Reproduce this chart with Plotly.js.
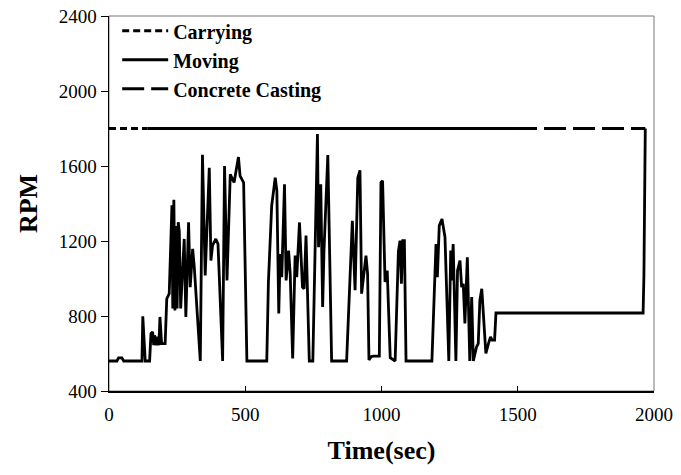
<!DOCTYPE html>
<html>
<head>
<meta charset="utf-8">
<script src="https://cdn.plot.ly/plotly-3.0.1.min.js"></script>
<style>
  html, body { margin: 0; padding: 0; background: #fff; }
  #chart { width: 681px; height: 475px; }
</style>
</head>
<body>
<div id="chart"></div>
<script>
// Engine speed record (seconds vs RPM)
const timeSec = [
  0, 29, 35, 47, 54, 121, 124, 133, 149, 154, 160, 164, 167, 173, 178, 183, 187, 193, 206, 212,
  221, 228, 231, 234, 238, 242, 246, 250, 254, 258, 263, 276, 282, 292, 298, 307, 313, 335, 343, 353,
  368, 374, 380, 392, 400, 417, 424, 433, 445, 459, 475, 481, 494, 506, 579, 585, 597, 610, 616, 623,
  628, 634, 644, 650, 659, 665, 674, 683, 689, 699, 710, 716, 723, 735, 748, 765, 769, 777, 784, 789,
  803, 817, 872, 893, 903, 913, 921, 927, 943, 949, 954, 962, 970, 992, 998, 1004, 1013, 1021, 1032, 1050,
  1062, 1068, 1073, 1078, 1084, 1090, 1185, 1200, 1205, 1212, 1222, 1233, 1247, 1254, 1257, 1263, 1273, 1279, 1288, 1294,
  1300, 1306, 1315, 1324, 1331, 1337, 1349, 1355, 1361, 1368, 1383, 1392, 1400, 1406, 1415, 1420, 1960, 1963, 1968
];
const rpmValues = [
  560, 560, 577, 577, 560, 560, 798, 560, 560, 706, 715, 644, 697, 644, 689, 644, 795, 653, 653, 892,
  919, 1184, 1390, 840, 1420, 830, 1280, 840, 1300, 1250, 840, 1211, 795, 1300, 954, 1158, 1060, 560, 1660, 1016,
  1591, 1096, 1176, 1211, 1184, 560, 1600, 990, 1556, 1512, 1648, 1547, 1512, 560, 560, 981, 1388, 1538, 1467, 813,
  1131, 1007, 1503, 990, 1149, 1025, 574, 1122, 1007, 1299, 954, 945, 1229, 560, 560, 1770, 1167, 1503, 848, 1150,
  1659, 560, 560, 1308, 937, 1538, 1577, 919, 1122, 1025, 565, 583, 586, 586, 1512, 1521, 981, 1043, 578, 560,
  1145, 1202, 972, 1202, 1202, 560, 560, 1184, 1007, 1282, 1317, 1220, 560, 1149, 990, 1184, 560, 1043, 1096, 954,
  972, 760, 1113, 560, 901, 560, 636, 653, 883, 945, 600, 650, 689, 671, 671, 816, 816, 1016, 1800
];

// Operating phases drawn as the 1800 RPM reference level
const phaseNames = ['Carrying', 'Moving', 'Concrete Casting'];
const phaseStart = [0, 142, 1490];
const phaseEnd = [142, 1490, 1968];
const phaseLevel = [1800, 1800, 1800];
const phaseDash = ['7px,4px', 'solid', '22px,7px'];

const yTicks = [400, 800, 1200, 1600, 2000, 2400];
const xTicks = [0, 500, 1000, 1500, 2000];

const serif = '"Liberation Serif", "Times New Roman", serif';

const traces = phaseNames.map((name, i) => ({
  type: 'scatter',
  mode: 'lines',
  name: name,
  x: [phaseStart[i], phaseEnd[i]],
  y: [phaseLevel[i], phaseLevel[i]],
  line: { color: '#000', width: 2.8, dash: phaseDash[i] },
  hoverinfo: 'skip'
}));

traces.push({
  type: 'scatter',
  mode: 'lines',
  name: 'RPM',
  x: timeSec,
  y: rpmValues,
  showlegend: false,
  line: { color: '#000', width: 2.8 }
});

const layout = {
  width: 681,
  height: 475,
  margin: { l: 109, r: 27, t: 15, b: 84 },
  paper_bgcolor: '#fff',
  plot_bgcolor: '#fff',
  showlegend: true,
  legend: {
    x: 0.015, y: 1.01, xanchor: 'left', yanchor: 'top',
    bgcolor: 'rgba(0,0,0,0)',
    font: { family: serif, size: 20, color: '#000', weight: 'bold' },
    itemwidth: 46,
    tracegroupgap: 0
  },
  xaxis: {
    range: [0, 2000],
    tickvals: xTicks,
    ticktext: xTicks.map(String),
    ticks: 'inside', ticklen: 5, tickwidth: 1, tickcolor: '#000',
    ticklabelstandoff: 6,
    showgrid: false, zeroline: false,
    showline: true, linecolor: '#000', linewidth: 1.5,
    tickfont: { family: serif, size: 19, color: '#000' },
    title: { text: 'Time(sec)', font: { family: serif, size: 26, color: '#000', weight: 'bold' }, standoff: 16 },
    fixedrange: true
  },
  yaxis: {
    range: [400, 2400],
    tickvals: yTicks,
    ticktext: yTicks.map(String),
    ticks: 'outside', ticklen: 7, tickwidth: 1, tickcolor: '#000',
    showgrid: false, zeroline: false,
    showline: true, linecolor: '#000', linewidth: 1.5,
    tickfont: { family: serif, size: 19, color: '#000' },
    title: { text: 'RPM', font: { family: serif, size: 26, color: '#000', weight: 'bold' }, standoff: 13 },
    fixedrange: true
  },
  shapes: [{
    type: 'rect', xref: 'paper', yref: 'paper', x0: 0, x1: 1, y0: 0, y1: 1,
    line: { color: '#777', width: 1 }, layer: 'below'
  }]
};

Plotly.newPlot('chart', traces, layout, { displayModeBar: false, staticPlot: true });
</script>
</body>
</html>
